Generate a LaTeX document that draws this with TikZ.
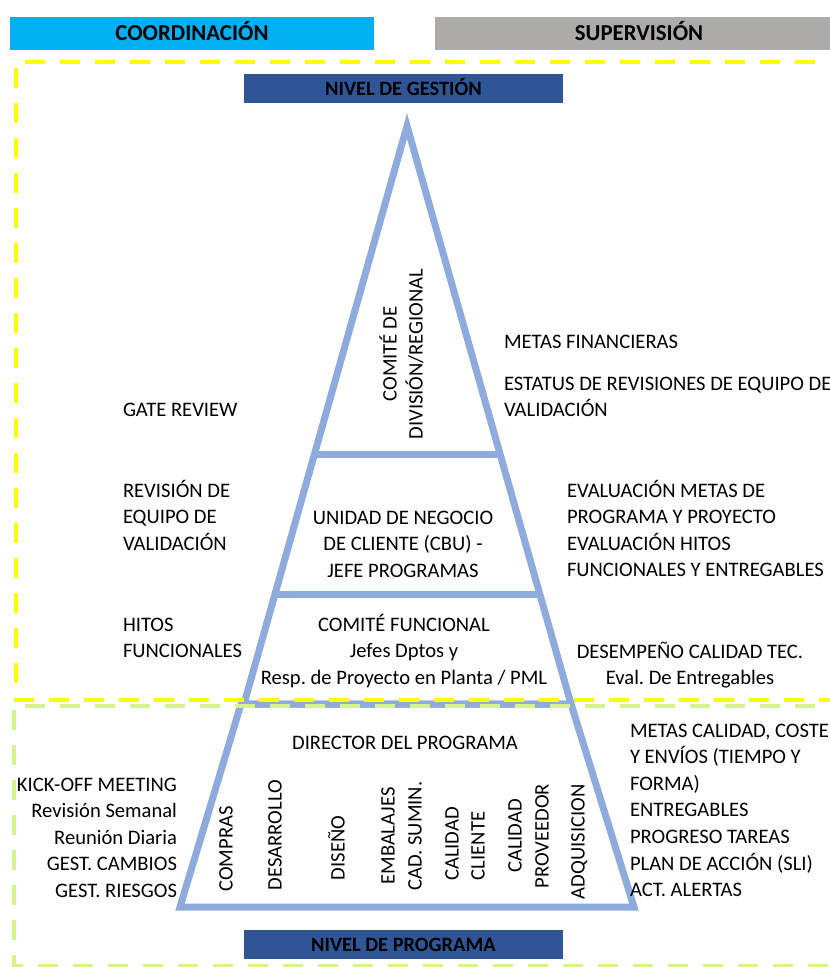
\documentclass[tikz,border=0pt]{standalone}
\usepackage{fontspec}
\setmainfont{Carlito}
\usetikzlibrary{calc}
\frenchspacing
\definecolor{coordcyan}{HTML}{00B0F0}
\definecolor{supgray}{HTML}{AEAAAA}
\definecolor{lvlblue}{HTML}{2F5597}
\definecolor{pyrblue}{HTML}{8FAADC}
\definecolor{dashyellow}{HTML}{FFFF00}
\definecolor{dashgreen}{RGB}{213,245,140}
% strut that fixes the height of the first line of a text block
\newcommand\firstln{\rule{0pt}{18pt}}
\begin{document}
\begin{tikzpicture}[x=1pt,y=-1pt,
  every node/.style={inner sep=0pt, outer sep=0pt, font=\fontsize{20.6}{26.6}\selectfont},
  pyr/.style={draw=pyrblue, line width=7pt, line join=miter},
  yband/.style={draw=dashyellow, line width=4pt, dash pattern=on 20pt off 15pt},
  gband/.style={draw=dashgreen, line width=4pt, dash pattern=on 20pt off 15pt},
  hdr/.style={font=\fontsize{22.8}{26}\selectfont\bfseries, text height=14.5pt, text depth=0pt, minimum height=33pt},
  lvl/.style={fill=lvlblue, font=\fontsize{20.4}{22}\selectfont\bfseries, text height=13pt, text depth=0pt, minimum width=319pt, minimum height=29pt},
  txt/.style={align=left, anchor=north west},
  rtxt/.style={align=right, anchor=north east},
  ctxt/.style={align=center, anchor=north},
  vtxt/.style={rotate=90, text height=13pt, text depth=0pt, anchor=center}]
\useasboundingbox (0,0) rectangle (830,967);
\clip (0,0) rectangle (830,967);
\fill[white] (0,0) rectangle (830,967);

% header bars
\node[hdr, fill=coordcyan, minimum width=364pt] (coord) at (192,33.5) {COORDINACIÓN};
\node[hdr, fill=supgray, minimum width=408pt] (superv) at (639,33.5) {SUPERVISIÓN};

% level labels
\node[lvl] (gestion) at (403.5,88.5) {NIVEL DE GESTIÓN};
\node[lvl] (programa) at (403.5,944.5) {NIVEL DE PROGRAMA};

% pyramid: upper triangle and lower trapezoid
\coordinate (apex) at (407,126);
\coordinate (bl) at (244,704);
\coordinate (br) at (571,704);
\coordinate (tl) at (241,704);
\coordinate (tr) at (571,704);
\coordinate (fl) at (180,907);
\coordinate (fr) at (634,907);
\draw[pyr] (apex) -- (br) -- (bl) -- cycle;
\draw[pyr] ($(apex)!0.5675!(bl)$) -- ($(apex)!0.5675!(br)$);
\draw[pyr] ($(apex)!0.8114!(bl)$) -- ($(apex)!0.8114!(br)$);
\draw[pyr] (tl) -- (tr) -- (fr) -- (fl) -- cycle;

% dashed zone frames
\draw[yband] (850,62) -- (16,62) -- (16,700) -- (850,700);
\draw[gband] (850,706) -- (14,706) -- (14,966) -- (850,966);

% management level texts
\node[vtxt] (comite1) at (390,354) {COMITÉ DE};
\node[vtxt] (comite2) at (416,354) {DIVISIÓN/REGIONAL};
\node[txt] (gate) at (123,398) {\firstln GATE REVIEW};
\node[txt] (metas) at (504,330) {\firstln METAS FINANCIERAS};
\node[txt] (estatus) at (504,372) {\firstln ESTATUS DE REVISIONES DE EQUIPO DE\\VALIDACIÓN};
\node[txt] (revision) at (123,479) {\firstln REVISIÓN DE\\EQUIPO DE\\VALIDACIÓN};
\node[ctxt] (cbu) at (403,506) {\firstln UNIDAD DE NEGOCIO\\DE CLIENTE (CBU) -\\JEFE PROGRAMAS};
\node[txt] (evaluacion) at (567,479) {\firstln EVALUACIÓN METAS DE\\PROGRAMA Y PROYECTO\\EVALUACIÓN HITOS\\FUNCIONALES Y ENTREGABLES};
\node[txt] (hitos) at (123,613) {\firstln HITOS\\FUNCIONALES};
\node[ctxt] (funcional) at (404,613) {\firstln COMITÉ FUNCIONAL\\Jefes Dptos y\\Resp. de Proyecto en Planta / PML};
\node[ctxt] (desempeno) at (690,640) {\firstln DESEMPEÑO CALIDAD TEC.\\Eval. De Entregables};

% program level texts
\node[ctxt] (director) at (405,731) {\firstln DIRECTOR DEL PROGRAMA};
\node[rtxt] (reuniones) at (177,773) {\firstln KICK-OFF MEETING\\Revisión Semanal\\Reunión Diaria\\GEST. CAMBIOS\\GEST. RIESGOS};
\node[txt] (entregas) at (630,719) {\firstln METAS CALIDAD, COSTE\\Y ENVÍOS (TIEMPO Y\\FORMA)\\ENTREGABLES\\PROGRESO TAREAS\\PLAN DE ACCIÓN (SLI)\\ACT. ALERTAS};

% departments
\node[vtxt] (compras) at (226,849) {COMPRAS};
\node[vtxt] (desarrollo) at (275,835) {DESARROLLO};
\node[vtxt] (diseno) at (338,848) {DISEÑO};
\node[vtxt] (embalajes) at (388,836) {EMBALAJES};
\node[vtxt] (cadsumin) at (415,836) {CAD. SUMIN.};
\node[vtxt] (calcli1) at (452,844) {CALIDAD};
\node[vtxt] (calcli2) at (478,846) {CLIENTE};
\node[vtxt] (calpro1) at (515,836) {CALIDAD};
\node[vtxt] (calpro2) at (542,836) {PROVEEDOR};
\node[vtxt] (adquisicion) at (578,842) {ADQUISICION};
\end{tikzpicture}
\end{document}
